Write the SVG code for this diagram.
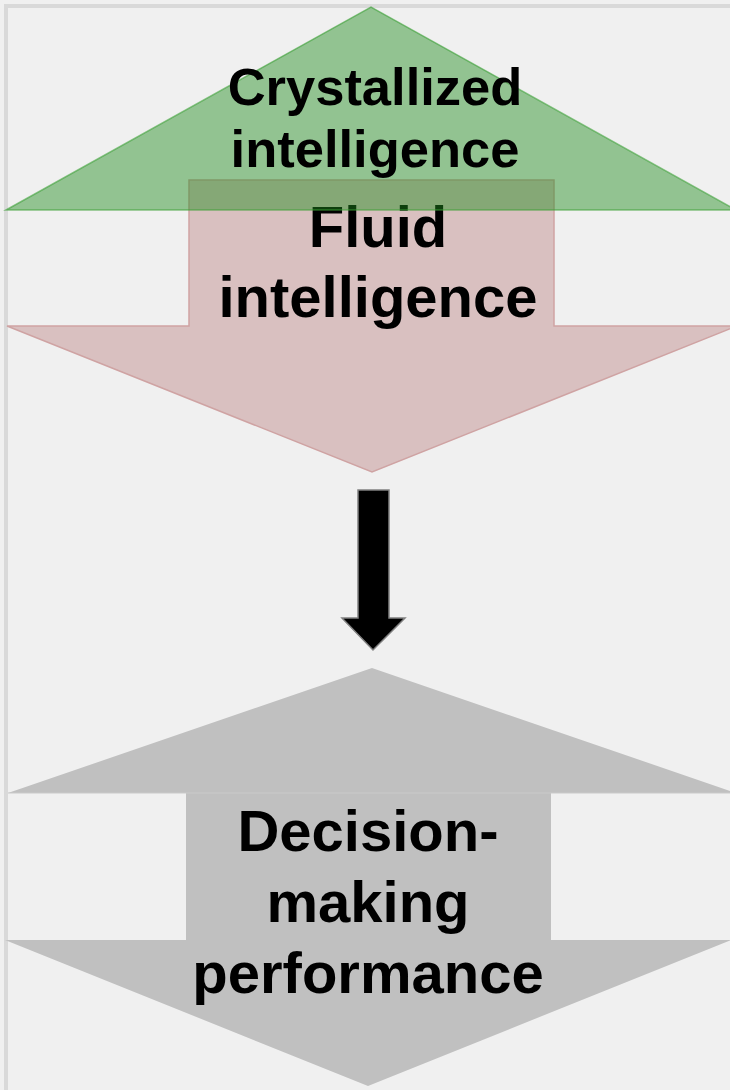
<svg xmlns="http://www.w3.org/2000/svg" width="730" height="1090" viewBox="0 0 730 1090">
<style>
.t{font-family:"Liberation Sans",Arial,sans-serif;font-weight:bold;fill:#000;text-anchor:middle}
</style>
<rect x="0" y="0" width="730" height="1090" fill="#f0f0f0"/>
<rect x="6" y="6" width="800" height="1200" fill="#f0f0f0" stroke="#d9d9d9" stroke-width="4"/>
<g id="fluid">
<polygon points="189,180 554,180 554,326 737,326 372,472 7,326 189,326" fill="#d9c0c0" stroke="#cfa3a3" stroke-width="1.5"/>
<text class="t" font-size="58" x="378" y="247">Fluid</text>
<text class="t" font-size="58" x="378" y="317">intelligence</text>
</g>
<g id="crystallized">
<polygon points="6,210 371,7 736,210" fill="rgb(30,140,28)" fill-opacity="0.45" stroke="rgb(60,160,55)" stroke-opacity="0.6" stroke-width="1.5"/>
<text class="t" font-size="52.5" x="375" y="105">Crystallized</text>
<text class="t" font-size="52.5" x="375" y="167">intelligence</text>
</g>
<g id="connectors">
<polygon points="358,490 389,490 389,618 405,618 373,650 342,618 358,618" fill="#000" stroke="#808080" stroke-width="1.5"/>
</g>
<g id="decision">
<polygon points="372,668 736,793 551,793 551,940 731,940 368,1086 5,940 186,940 186,793 8,793" fill="#c0c0c0"/>
<line x1="8" y1="793" x2="736" y2="793" stroke="#cacaca" stroke-width="1"/>
<text class="t" font-size="58" x="368" y="851">Decision-</text>
<text class="t" font-size="58" x="368" y="922">making</text>
<text class="t" font-size="58" x="368" y="993">performance</text>
</g>
</svg>
